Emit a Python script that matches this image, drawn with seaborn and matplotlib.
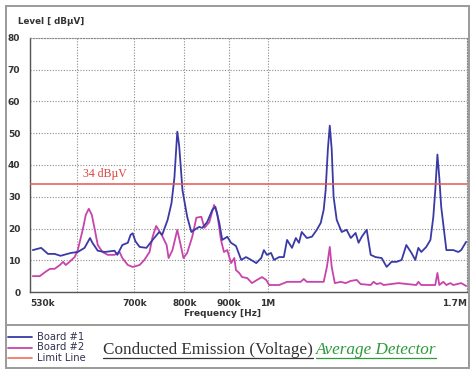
import matplotlib
matplotlib.use("Agg")
import matplotlib.pyplot as plt
import seaborn as sns
import pandas as pd
from matplotlib.lines import Line2D

# ---- data (frequency in kHz, level in dBuV) ----
board1_freq = [534, 546, 556, 566, 575, 591, 602, 613, 622, 626, 635, 647, 664, 669, 678, 688,
               693, 697, 702, 710, 723, 735, 748, 754, 765, 773, 779, 785, 789, 796, 806, 815,
               822, 832, 839, 850, 862, 869, 878, 885, 897, 906, 918, 931, 943, 956, 969, 982,
               989, 997, 1008, 1016, 1030, 1043, 1052, 1066, 1077, 1086, 1094, 1109, 1124, 1139,
               1151, 1160, 1166, 1173, 1179, 1185, 1191, 1201, 1217, 1233, 1247, 1263, 1273, 1284,
               1301, 1315, 1332, 1354, 1372, 1390, 1409, 1428, 1446, 1466, 1481, 1493, 1505, 1525,
               1542, 1554, 1562, 1571, 1579, 1587, 1609, 1639, 1661, 1674, 1696]
board1_level = [13.2, 13.9, 12.0, 12.0, 11.4, 12.3, 12.6, 13.9, 17.0, 15.5, 13.0, 12.6, 13.0, 11.7, 14.8, 15.5,
                18.0, 18.5, 16.0, 14.2, 13.9, 16.4, 18.9, 18.0, 22.7, 28.0, 36.0, 50.5, 46.0, 32.0, 23.7, 18.9,
                19.6, 20.5, 20.2, 22.0, 25.9, 26.8, 21.8, 16.4, 17.4, 15.5, 14.5, 10.1, 11.0, 10.1, 9.1, 10.7,
                13.2, 11.7, 12.3, 10.1, 11.0, 11.0, 16.4, 13.9, 17.0, 15.5, 18.9, 17.0, 17.4, 19.6,
                21.8, 25.9, 32.0, 45.0, 52.4, 45.0, 30.0, 22.7, 18.9, 19.6, 17.0, 18.6, 15.5, 17.4,
                19.6, 11.7, 11.0, 10.7, 7.9, 9.5, 9.5, 10.1, 14.8, 12.3, 10.1, 13.9, 12.6, 14.2,
                16.4, 23.7, 32.0, 43.3, 36.0, 26.8, 13.2, 13.2, 12.6, 13.2, 15.8]

board2_freq = [534, 544, 552, 559, 566, 574, 579, 583, 589, 597, 602, 610, 615, 620, 625, 630, 635,
               643, 652, 664, 673, 678, 688, 697, 710, 719, 729, 735, 742, 753, 763, 767, 775,
               785, 793, 798, 806, 817, 826, 837, 844, 855, 866, 873, 882, 889, 897, 906, 914,
               918, 926, 933, 946, 958, 971, 984, 995, 1003, 1030, 1052, 1091, 1100, 1109, 1160,
               1170, 1179, 1185, 1195, 1214, 1230, 1247, 1267, 1280, 1315, 1325, 1336, 1350, 1361,
               1416, 1485, 1493, 1505, 1562, 1571, 1579, 1596, 1609, 1626, 1639, 1674, 1696]
board2_level = [5.0, 5.0, 6.3, 7.3, 7.3, 8.5, 9.5, 8.5, 9.5, 11.0, 13.2, 19.6, 24.3, 26.2, 24.3, 19.6, 14.8,
                12.6, 11.7, 11.7, 12.6, 10.7, 8.5, 7.9, 8.5, 10.1, 12.6, 17.4, 20.8, 18.0, 14.8, 10.7, 13.2,
                19.6, 14.2, 10.7, 12.3, 17.4, 23.4, 23.7, 20.2, 22.0, 27.4, 24.9, 16.4, 12.6, 13.2, 9.1, 10.7,
                6.9, 6.0, 4.7, 4.4, 2.8, 3.8, 4.7, 3.8, 2.2, 2.2, 3.2, 3.2, 4.1, 3.2, 3.2,
                7.9, 14.2, 7.9, 2.8, 3.2, 2.8, 3.5, 3.8, 2.5, 2.2, 3.2, 2.5, 2.8, 2.2,
                2.8, 2.2, 3.2, 2.2, 2.2, 6.0, 2.2, 3.2, 2.2, 2.8, 2.2, 2.8, 1.9]

limit_level = 34
x_ticks = [530, 600, 700, 800, 900, 1000, 1700]
x_tick_labels = ["530k", "", "700k", "800k", "900k", "1M", "1.7M"]
y_ticks = [0, 10, 20, 30, 40, 50, 60, 70, 80]
legend_labels = ["Board #1", "Board #2", "Limit Line"]

# ---- style ----
sns.set_style("white")
plt.rcParams["font.family"] = ["DejaVu Sans"]

W, H = 476, 375
fig = plt.figure(figsize=(W / 100, H / 100), dpi=100)
fig.patch.set_facecolor("white")

def fx(px):
    return px / W

def fy(py):
    return 1 - py / H

ax = fig.add_axes([fx(30), fy(292), (467 - 30) / W, (292 - 38) / H])

c1 = "#3a3aa6"
c2 = "#c844aa"
c_lim = "#e5574f"

df1 = pd.DataFrame({"f": board1_freq, "v": board1_level})
df2 = pd.DataFrame({"f": board2_freq, "v": board2_level})
sns.lineplot(data=df2, x="f", y="v", ax=ax, color=c2, linewidth=1.3, zorder=3)
sns.lineplot(data=df1, x="f", y="v", ax=ax, color=c1, linewidth=1.3, zorder=4)
ax.axhline(limit_level, color=c_lim, linewidth=1.1, zorder=5)

ax.set_xscale("log")
ax.set_xlim(530, 1700)
ax.set_ylim(0, 80)
ax.set_xticks(x_ticks)
ax.set_xticklabels(x_tick_labels)
ax.minorticks_off()
ax.set_yticks(y_ticks)
ax.set_xlabel("")
ax.set_ylabel("")

grid_kw = dict(color="#8a8a8a", linewidth=0.8, linestyle=(0, (1, 1.5)))
ax.grid(True, which="major", **grid_kw)

for t in ax.get_xticklabels() + ax.get_yticklabels():
    t.set_fontweight("bold")
    t.set_fontsize(6.5)
    t.set_color("#333333")
xl = ax.get_xticklabels()
xl[0].set_horizontalalignment("left")
xl[-1].set_horizontalalignment("right")
ax.tick_params(axis="both", length=0)
ax.tick_params(axis="x", pad=5)
ax.tick_params(axis="y", pad=7)

for s in ["left", "bottom"]:
    ax.spines[s].set_color("#555555")
    ax.spines[s].set_linewidth(1.0)
for s in ["top", "right"]:
    ax.spines[s].set_color("#8a8a8a")
    ax.spines[s].set_linewidth(0.8)
    ax.spines[s].set_linestyle((0, (1, 1.5)))

ax.text(610, limit_level + 1.2, "34 dBµV", color="#d9423c", fontsize=8.5,
        family="Liberation Serif", va="bottom", ha="left", zorder=6)

# axis titles
fig.text(fx(18), fy(21), "Level [ dBµV]", fontsize=6.3, fontweight="bold",
         color="#333333", ha="left", va="center")
fig.text(fx(222), fy(313), "Frequency [Hz]", fontsize=6.5, fontweight="bold",
         color="#333333", ha="center", va="center")

# frame and separator
fig.add_artist(plt.Rectangle((fx(6), fy(368)), (469 - 6) / W, (368 - 6) / H,
                             transform=fig.transFigure, fill=False,
                             edgecolor="#9a9a9a", linewidth=1.4))
fig.add_artist(Line2D([fx(6), fx(469)], [fy(325), fy(325)], transform=fig.transFigure,
                      color="#9a9a9a", linewidth=1.4))

# legend
for i, (lab, col) in enumerate(zip(legend_labels, [c1, c2, "#f07a6a"])):
    yy = 337 + i * 10.5
    fig.add_artist(Line2D([fx(8), fx(32)], [fy(yy), fy(yy)], transform=fig.transFigure,
                          color=col, linewidth=1.3))
    fig.text(fx(37), fy(yy), lab, fontsize=7.2, color="#333355", ha="left", va="center")

# title with underline
t1 = fig.text(fx(103), fy(350), "Conducted Emission (Voltage)", fontsize=12.3,
              family="Liberation Serif", color="#333333", ha="left", va="center")
fig.canvas.draw()
r = fig.canvas.get_renderer()
bb1 = t1.get_window_extent(r)
t2 = fig.text(bb1.x1 / W + fx(3), fy(350), "Average Detector", fontsize=12.3,
              family="Liberation Serif", style="italic", color="#2e9a3e",
              ha="left", va="center")
fig.canvas.draw()
bb2 = t2.get_window_extent(r)
uy = fy(358)
fig.add_artist(Line2D([bb1.x0 / W, bb1.x1 / W], [uy, uy], transform=fig.transFigure,
                      color="#333333", linewidth=0.9))
fig.add_artist(Line2D([bb2.x0 / W, bb2.x1 / W], [uy, uy], transform=fig.transFigure,
                      color="#2e9a3e", linewidth=0.9))

fig.savefig("out.png", dpi=100, facecolor="white")
